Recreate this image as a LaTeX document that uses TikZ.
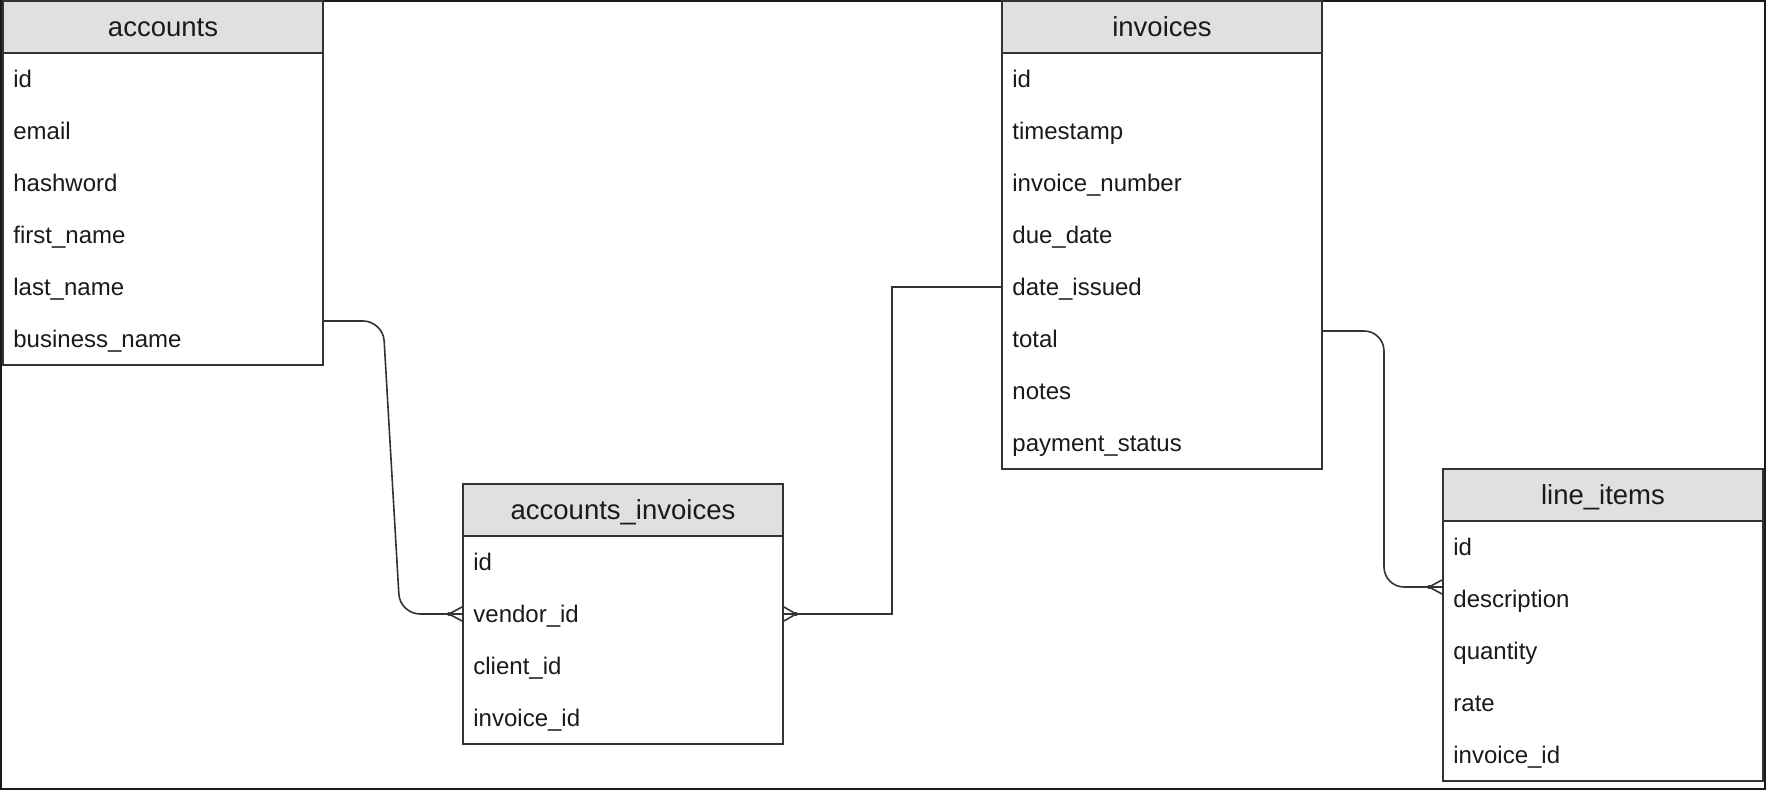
\documentclass[tikz,border=0pt]{standalone}
\usepackage{fontspec}
\setmainfont{Liberation Sans}
\usetikzlibrary{calc}
\definecolor{hdrgray}{HTML}{E0E0E0}
\definecolor{edge}{HTML}{333333}
\definecolor{ink}{HTML}{1A1A1A}
\begin{document}
\begin{tikzpicture}[
	x=0.5pt,y=-0.5pt,line cap = round,
	tblhead/.style={rectangle,draw = edge,fill = hdrgray,line width=1pt,minimum width=160pt,minimum height=26pt,inner sep=0pt,text height=10pt,text depth=0pt,text=ink,font=\fontsize{13.75}{16}\selectfont},
	tblbody/.style={rectangle,draw = edge,fill = white,line width=1pt,minimum width=160pt,inner sep=0pt},
	tblrow/.style={anchor=west,inner sep=0pt,text height=10.5pt,text depth=2pt,text=ink,font=\fontsize{12}{14}\selectfont},
	conn/.style={draw = edge,line width=0.8pt}]
	\useasboundingbox (0,0) rectangle (1766,790);
	\draw[line width=1.2pt,color=ink] (1.2,1.2) rectangle (1764.8,788.8);
	% accounts
	\node at (163,209) (nodeAccBody) [tblbody,minimum height=156pt] {};
	\node at (163,27) (nodeAcc) [tblhead] {accounts};
	\node at (13,79) (nodeAccId) [tblrow] {id};
	\node at (13,131) (nodeAccEmail) [tblrow] {email};
	\node at (13,183) (nodeAccHash) [tblrow] {hashword};
	\node at (13,235) (nodeAccFirst) [tblrow] {first\_name};
	\node at (13,287) (nodeAccLast) [tblrow] {last\_name};
	\node at (13,339) (nodeAccBiz) [tblrow] {business\_name};
	% invoices
	\node at (1162,261) (nodeInvBody) [tblbody,minimum height=208pt] {};
	\node at (1162,27) (nodeInv) [tblhead] {invoices};
	\node at (1012,79) (nodeInvId) [tblrow] {id};
	\node at (1012,131) (nodeInvTime) [tblrow] {timestamp};
	\node at (1012,183) (nodeInvNum) [tblrow] {invoice\_number};
	\node at (1012,235) (nodeInvDue) [tblrow] {due\_date};
	\node at (1012,287) (nodeInvDate) [tblrow] {date\_issued};
	\node at (1012,339) (nodeInvTotal) [tblrow] {total};
	\node at (1012,391) (nodeInvNotes) [tblrow] {notes};
	\node at (1012,443) (nodeInvPay) [tblrow] {payment\_status};
	% accounts_invoices
	\node at (623,640) (nodeAiBody) [tblbody,minimum height=104pt] {};
	\node at (623,510) (nodeAi) [tblhead] {accounts\_invoices};
	\node at (473,562) (nodeAiId) [tblrow] {id};
	\node at (473,614) (nodeAiVendor) [tblrow] {vendor\_id};
	\node at (473,666) (nodeAiClient) [tblrow] {client\_id};
	\node at (473,718) (nodeAiInv) [tblrow] {invoice\_id};
	% line_items
	\node at (1603,651) (nodeLiBody) [tblbody,minimum height=130pt] {};
	\node at (1603,495) (nodeLi) [tblhead] {line\_items};
	\node at (1453,547) (nodeLiId) [tblrow] {id};
	\node at (1453,599) (nodeLiDesc) [tblrow] {description};
	\node at (1453,651) (nodeLiQty) [tblrow] {quantity};
	\node at (1453,703) (nodeLiRate) [tblrow] {rate};
	\node at (1453,755) (nodeLiInv) [tblrow] {invoice\_id};
	% connectors
	\draw[conn,rounded corners=10pt] ($(nodeAccBody.east |- nodeAccBiz)+(0,-18)$) -- ++(59,0) -- ($(nodeAiBody.west |- nodeAiVendor)+(-62,0)$) -- (nodeAiBody.west |- nodeAiVendor);
	\draw[conn] (nodeAiBody.west |- nodeAiVendor) ++(0,-7) -- ++(-13,7) -- ++(13,7);
	\fill[edge] (nodeAiBody.west |- nodeAiVendor) ++(-13,0) circle (1pt);
	\draw[conn] (nodeInvBody.west |- nodeInvDate) -- ++(-109,0) |- (nodeAiBody.east |- nodeAiVendor);
	\draw[conn] (nodeAiBody.east |- nodeAiVendor) ++(0,-7) -- ++(12,7) -- ++(-12,7);
	\fill[edge] (nodeAiBody.east |- nodeAiVendor) ++(12,0) circle (1pt);
	\draw[conn,rounded corners=10pt] ($(nodeInvBody.east |- nodeInvTotal)+(0,-8)$) -- ++(61,0) |- ($(nodeLiBody.west |- nodeLiDesc)+(0,-12)$);
	\draw[conn] ($(nodeLiBody.west |- nodeLiDesc)+(0,-19)$) -- ++(-13,7) -- ++(13,7);
	\fill[edge] ($(nodeLiBody.west |- nodeLiDesc)+(-13,-12)$) circle (1pt);
\end{tikzpicture}
\end{document}
